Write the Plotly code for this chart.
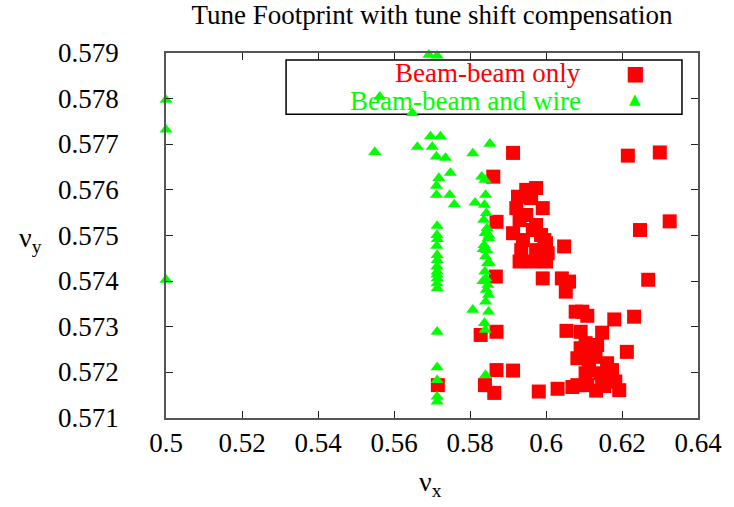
import plotly.graph_objects as go

# Tune footprint: horizontal tune (nu_x) vs vertical tune (nu_y)
bb_only_x = [
    0.57154, 0.58281, 0.58698, 0.58393, 0.58638, 0.58698, 0.59133, 0.59810, 0.60305, 0.60695,
    0.59133, 0.58612, 0.59740, 0.59263, 0.59609, 0.59914, 0.59219, 0.58698, 0.59305, 0.59133,
    0.59654, 0.60000, 0.60477, 0.59305, 0.60044, 0.59654, 0.59393, 0.60000, 0.58680, 0.59914,
    0.60417, 0.60521, 0.59956, 0.60607, 0.62154, 0.62995, 0.63255, 0.62474, 0.62690, 0.62318,
    0.62128, 0.61927, 0.60539, 0.60781, 0.60956, 0.61086, 0.61797, 0.60911, 0.61477, 0.61042,
    0.61346, 0.60911, 0.61258, 0.60826, 0.61128, 0.61302, 0.61128, 0.61607, 0.61737, 0.61042,
    0.61432, 0.61477, 0.61823, 0.60826, 0.61086, 0.61320, 0.61536, 0.61563, 0.59479, 0.59740,
    0.59870, 0.59349, 0.59740, 0.59479,
]
bb_only_y = [
    0.57172, 0.57282, 0.57289, 0.57172, 0.57155, 0.57205, 0.57204, 0.57158, 0.57164, 0.57168,
    0.57681, 0.57629, 0.57604, 0.57585, 0.57582, 0.57560, 0.57560, 0.57530, 0.57534, 0.57505,
    0.57512, 0.57483, 0.57476, 0.57443, 0.57461, 0.57443, 0.57490, 0.57443, 0.57410, 0.57406,
    0.57406, 0.57377, 0.57490, 0.57399, 0.57675, 0.57682, 0.57531, 0.57512, 0.57403, 0.57322,
    0.57245, 0.57161, 0.57291, 0.57333, 0.57333, 0.57324, 0.57316, 0.57289, 0.57287, 0.57264,
    0.57260, 0.57253, 0.57253, 0.57231, 0.57227, 0.57234, 0.57205, 0.57220, 0.57205, 0.57198,
    0.57198, 0.57183, 0.57180, 0.57172, 0.57172, 0.57160, 0.57170, 0.57194, 0.57545, 0.57523,
    0.57501, 0.57468, 0.57468, 0.57600,
]

bb_wire_x = [
    0.50000, 0.50000, 0.50000,
    0.56919, 0.57135, 0.56484, 0.55625, 0.55495,
    0.56961, 0.57221, 0.56615, 0.57005, 0.57117, 0.57352,
    0.58073, 0.58523, 0.57482, 0.57180, 0.57117, 0.57117, 0.57466, 0.57586, 0.58133,
    0.58307, 0.58393, 0.58411,
    # column near nu_x = 0.571
    0.57135, 0.57130, 0.57140, 0.57125, 0.57135, 0.57140, 0.57130, 0.57135, 0.57128, 0.57138,
    0.57132, 0.57136, 0.57135, 0.57135, 0.57135, 0.57135, 0.57135,
    # column near nu_x = 0.584
    0.58380, 0.58430, 0.58360, 0.58450, 0.58400, 0.58480, 0.58370, 0.58440, 0.58410, 0.58460,
    0.58390, 0.58420, 0.58470, 0.58430, 0.58410, 0.58490, 0.58380, 0.58400, 0.58410,
    0.58500, 0.58350, 0.58510, 0.58340, 0.58490,
    0.58073,
]
bb_wire_y = [
    0.57797, 0.57732, 0.57403,
    0.57896, 0.57894, 0.57768, 0.57804, 0.57683,
    0.57717, 0.57717, 0.57694, 0.57694, 0.57673, 0.57670,
    0.57680, 0.57701, 0.57637, 0.57626, 0.57609, 0.57589, 0.57589, 0.57568, 0.57572,
    0.57629, 0.57622, 0.57589,
    0.57521, 0.57501, 0.57492, 0.57477, 0.57457, 0.57446, 0.57432, 0.57421, 0.57414, 0.57406,
    0.57395, 0.57384, 0.57289, 0.57211, 0.57183, 0.57147, 0.57136,
    0.57567, 0.57549, 0.57534, 0.57516, 0.57505, 0.57494, 0.57479, 0.57468, 0.57454, 0.57439,
    0.57421, 0.57406, 0.57392, 0.57381, 0.57355, 0.57333, 0.57308, 0.57293, 0.57194,
    0.57500, 0.57470, 0.57440, 0.57400, 0.57370,
    0.57337,
]

x_ticks = [0.5, 0.52, 0.54, 0.56, 0.58, 0.6, 0.62, 0.64]
y_ticks = [0.571, 0.572, 0.573, 0.574, 0.575, 0.576, 0.577, 0.578, 0.579]

RED = "#ff0000"
GREEN = "#00ff00"
SERIF = "Liberation Serif"

fig = go.Figure()
fig.add_trace(go.Scatter(
    x=bb_only_x, y=bb_only_y, mode="markers", name="Beam-beam only", cliponaxis=False,
    marker=dict(symbol="square", size=14, color=RED, line=dict(width=0)),
))
fig.add_trace(go.Scatter(
    x=bb_wire_x, y=bb_wire_y, mode="markers", name="Beam-beam and wire", cliponaxis=False,
    marker=dict(symbol="triangle-up", size=11.5, color=GREEN, line=dict(width=0)),
))

axis_common = dict(
    showgrid=False, zeroline=False, showline=True, linecolor="#555555", linewidth=1.5,
    mirror="allticks", ticks="inside", ticklen=7, tickwidth=1.2, tickcolor="#222222",
    tickfont=dict(family=SERIF, size=27, color="black"),
)
fig.update_xaxes(range=[0.5, 0.64], tickvals=x_ticks,
                 ticktext=[f"{v:g}" for v in x_ticks], **axis_common)
fig.update_yaxes(range=[0.571, 0.579], tickvals=y_ticks, showticklabels=False, **axis_common)

# y tick labels set well away from the frame, placed on the y scale
for v in y_ticks:
    fig.add_annotation(xref="paper", yref="y", x=-0.0837, y=v, xanchor="right", yanchor="middle",
                       text=f"{v:g}", showarrow=False,
                       font=dict(family=SERIF, size=27, color="black"))

# key box with text on the left and symbol on the right
fig.add_shape(type="rect", xref="paper", yref="paper", x0=0.2257, x1=0.9699, y0=0.832, y1=0.981,
              line=dict(color="black", width=1.5), fillcolor="rgba(0,0,0,0)", layer="below")
key_font = dict(family=SERIF, size=27)
fig.add_annotation(xref="paper", yref="paper", x=0.784, y=0.945, xanchor="right", yanchor="middle",
                   text="Beam-beam only", showarrow=False, font=dict(color=RED, **key_font))
fig.add_annotation(xref="paper", yref="paper", x=0.784, y=0.868, xanchor="right", yanchor="middle",
                   text="Beam-beam and wire", showarrow=False, font=dict(color=GREEN, **key_font))
fig.add_annotation(xref="paper", yref="paper", x=0.882, y=0.945, xanchor="center", yanchor="middle",
                   text="■", showarrow=False, font=dict(family="DejaVu Sans", size=20, color=RED))
fig.add_annotation(xref="paper", yref="paper", x=0.882, y=0.873, xanchor="center", yanchor="middle",
                   text="▲", showarrow=False, font=dict(family="DejaVu Sans", size=15, color=GREEN))

# axis labels (horizontal, gnuplot style)
fig.add_annotation(xref="paper", yref="paper", x=-0.255, y=0.49, xanchor="center", yanchor="middle",
                   text="ν<sub>y</sub>", showarrow=False, font=dict(family=SERIF, size=28, color="black"))
fig.add_annotation(xref="paper", yref="paper", x=0.497, y=-0.18, xanchor="center", yanchor="middle",
                   text="ν<sub>x</sub>", showarrow=False, font=dict(family=SERIF, size=28, color="black"))

fig.update_layout(
    width=734, height=507,
    margin=dict(l=166, r=30, t=53, b=89),
    paper_bgcolor="white", plot_bgcolor="white",
    showlegend=False,
    title=dict(text="Tune Footprint with tune shift compensation", xref="paper", x=0.5,
               xanchor="center", y=0.972, yanchor="middle",
               font=dict(family=SERIF, size=27, color="black")),
)

fig.write_html("out.html")
